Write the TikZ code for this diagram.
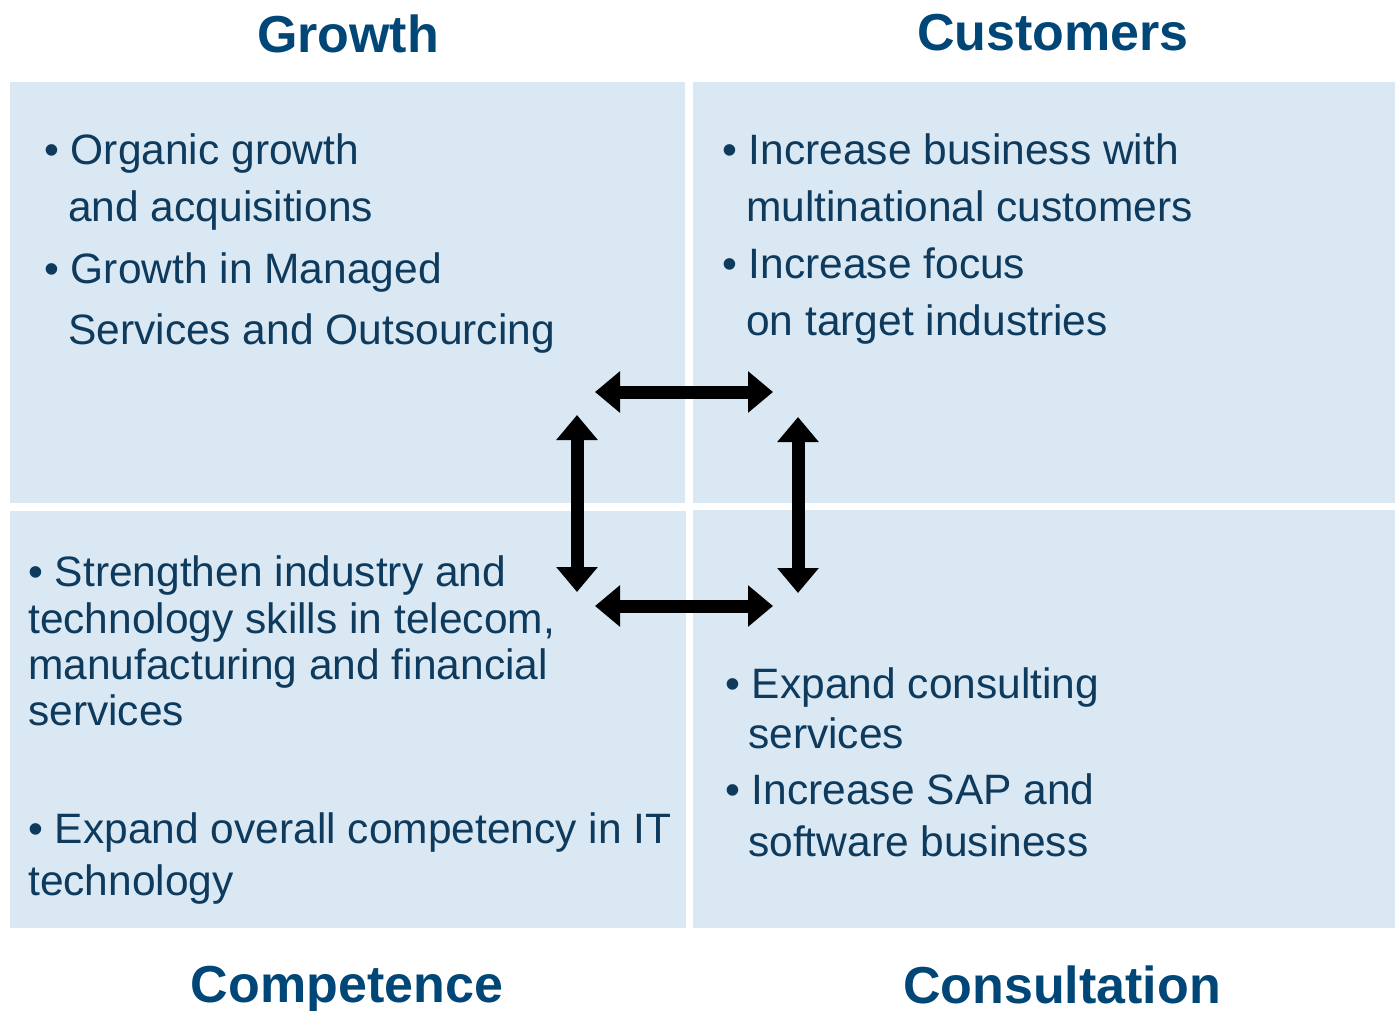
\documentclass[tikz,border=0pt]{standalone}
\usepackage{fontspec}
\setmainfont{Liberation Sans}
\usetikzlibrary{arrows.meta}

\definecolor{boxblue}{HTML}{D9E8F2}
\definecolor{headblue}{HTML}{004677}
\definecolor{textblue}{HTML}{0E3A5E}

\tikzset{
  quad/.style={fill=boxblue,draw=none},
  head/.style={anchor=base,inner sep=0,text=headblue,font=\fontsize{52}{60}\selectfont\bfseries},
  item/.style={anchor=base west,inner sep=0,text=textblue,font=\fontsize{42.5}{50}\selectfont},
  link/.style={line width=13pt,{Triangle[width=40pt,length=25pt]}-{Triangle[width=40pt,length=25pt]}}
}

\begin{document}
\begin{tikzpicture}[x=1pt,y=-1pt]
\useasboundingbox (0,0) rectangle (1395,1010);
% four quadrants
\fill[quad] (10,82) rectangle (685,503);
\fill[quad] (693,82) rectangle (1395,503);
\fill[quad] (10,511) rectangle (686,928);
\fill[quad] (693,510) rectangle (1395,928);
% headings
\node[head] (growth) at (348,52) {Growth};
\node[head] (cust) at (1053,50) {Customers};
\node[head] (comp) at (347,1002) {Competence};
\node[head] (cons) at (1062,1003) {Consultation};
% text lines
\foreach \n/\x/\y/\t in {
  g1/44/164/{\textbullet\ Organic growth}, g2/68/221/{and acquisitions},
  g3/44/283/{\textbullet\ Growth in Managed}, g4/68/344/{Services and Outsourcing},
  c1/722/164/{\textbullet\ Increase business with}, c2/746/221/{multinational customers},
  c3/722/278/{\textbullet\ Increase focus}, c4/746/335/{on target industries},
  k1/28/586/{\textbullet\ Strengthen industry and}, k2/28/633/{technology skills in telecom,},
  k3/28/679/{manufacturing and financial}, k4/28/725/{services},
  k5/28/843/{\textbullet\ Expand overall competency in IT}, k6/28/895/{technology},
  s1/725/698/{\textbullet\ Expand consulting}, s2/748/748/{services},
  s3/725/804/{\textbullet\ Increase SAP and}, s4/748/856/{software business}}
  \node[item] (\n) at (\x,\y) {\t};
% arrows between the quadrants
\coordinate (tl) at (595,392); \coordinate (tr) at (773,392);
\coordinate (bl) at (595,606); \coordinate (br) at (773,606);
\coordinate (lt) at (577,415); \coordinate (lb) at (577,592);
\coordinate (rt) at (798,417); \coordinate (rb) at (798,593);
\draw[link] (tl) -- (tr);
\draw[link] (bl) -- (br);
\draw[link] (lt) -- (lb);
\draw[link] (rt) -- (rb);
\end{tikzpicture}
\end{document}
